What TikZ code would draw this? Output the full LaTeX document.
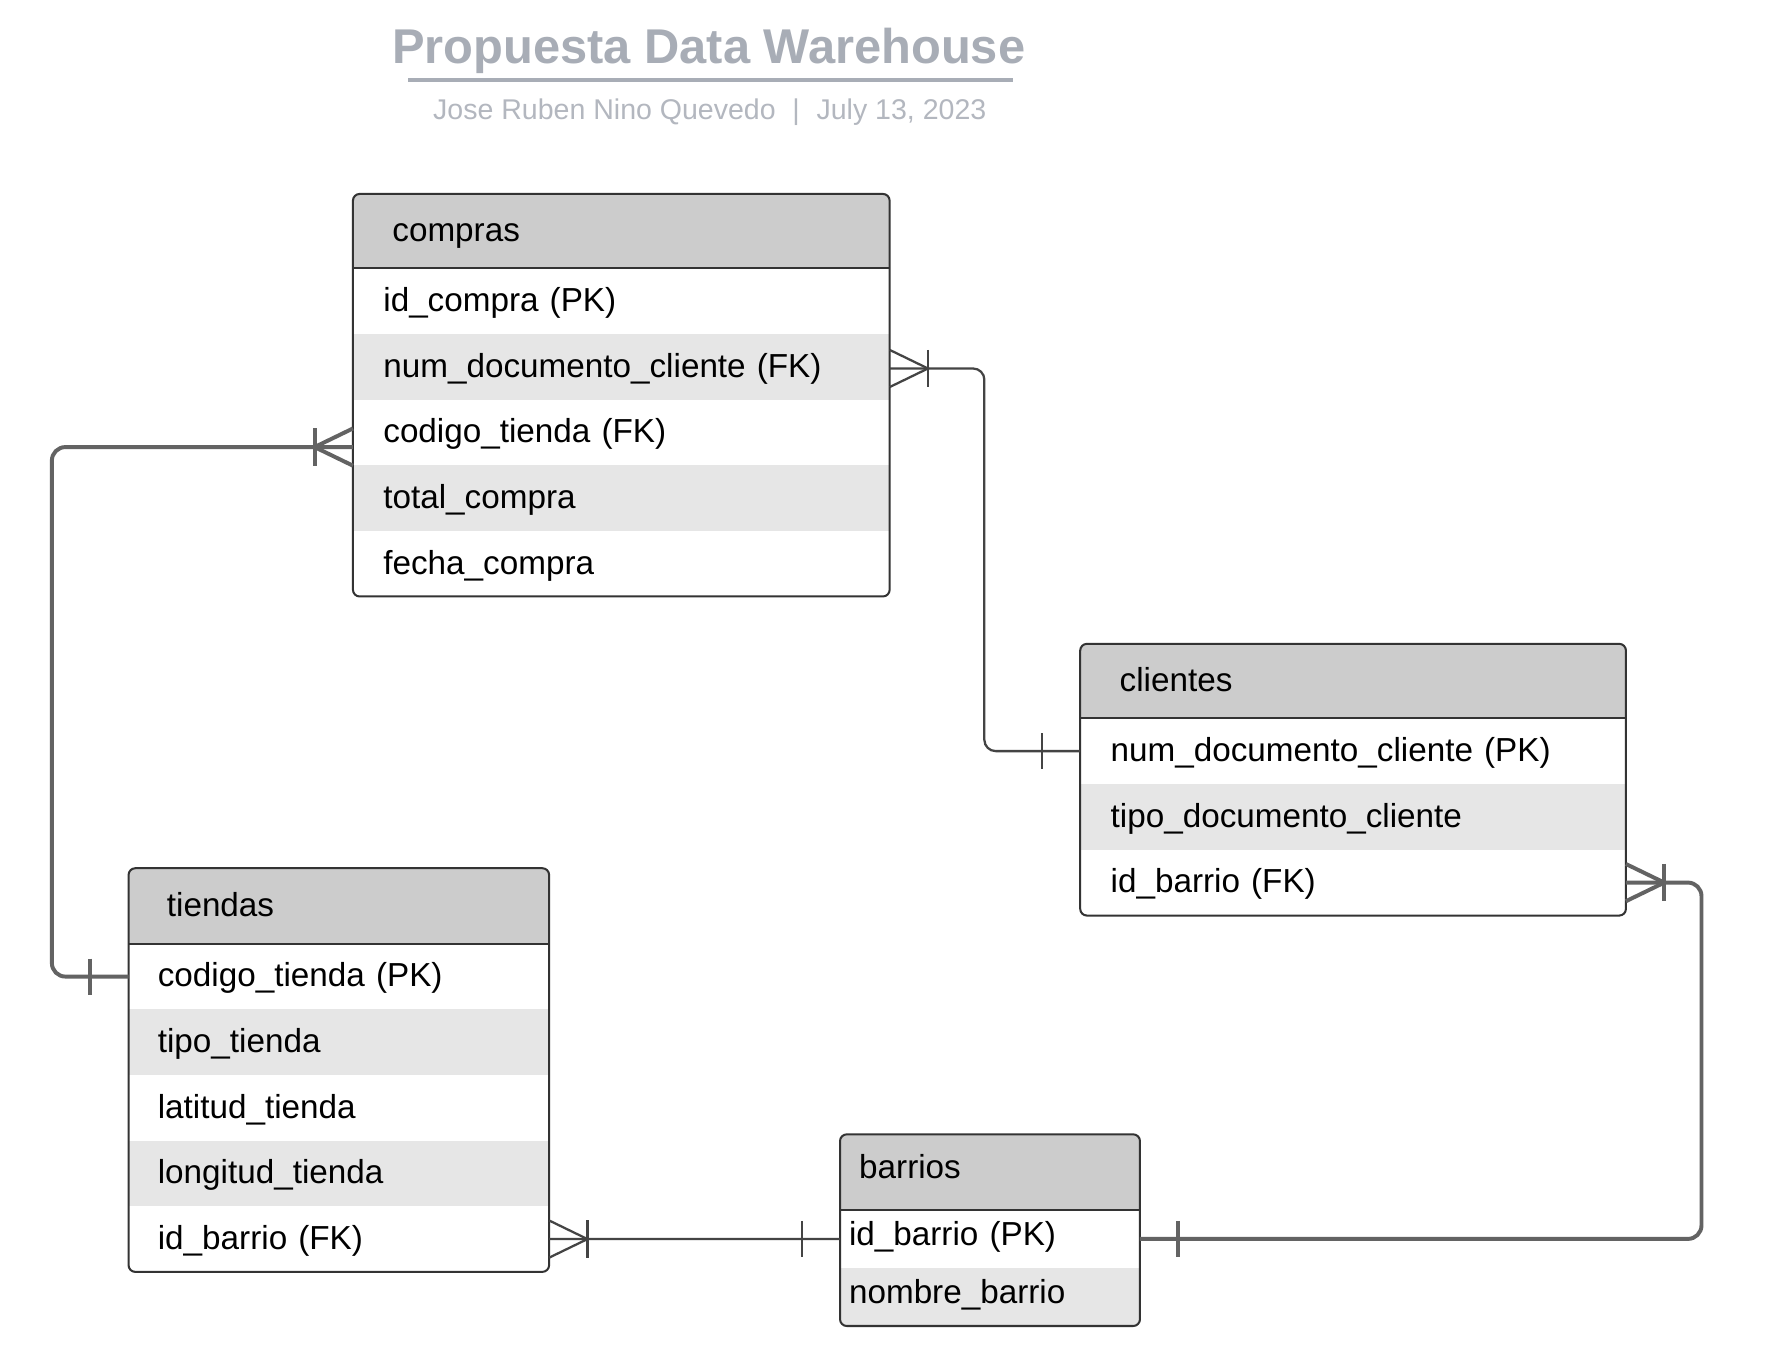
\documentclass[tikz,border=0pt]{standalone}
\usepackage{fontspec}
\setmainfont{Liberation Sans}
\usetikzlibrary{calc}
\definecolor{hdrgray}{HTML}{CCCCCC}
\definecolor{rowgray}{HTML}{E6E6E6}
\definecolor{bordc}{HTML}{333333}
\definecolor{linec}{HTML}{636363}
\definecolor{thinc}{HTML}{444444}
\definecolor{titlec}{HTML}{A8ADB6}
\definecolor{subc}{HTML}{B3B7BF}
\newcommand{\rowfont}{\fontsize{29.5pt}{34pt}\selectfont}
\newcommand{\ttlfont}{\fontsize{43.3pt}{50pt}\selectfont\bfseries}
\newcommand{\subfont}{\fontsize{25.3pt}{30pt}\selectfont}
\tikzset{
  cell/.style={anchor=north west, inner ysep=0pt, align=left, outer sep=0pt,
    text height=24pt, text depth=5.6pt, font=\rowfont, text=black},
  hdrcell/.style={cell, fill=hdrgray},
  whiterow/.style={cell, fill=white},
  grayrow/.style={cell, fill=rowgray},
  smallshift/.style={text depth=12pt},
  border/.style={draw=bordc, line width=1.8pt, rounded corners=6pt},
  sepline/.style={draw=bordc, line width=1.8pt},
  thinln/.style={color=thinc, line width=2pt},
  thickln/.style={color=linec, line width=3.5pt},
  pics/crowfoot/.style={code={
    \draw (0,-16.5) -- (34,0) -- (0,16.5);
    \draw (34,-16.5) -- (34,16.5);}},
  pics/onebar/.style={code={
    \draw (34,-16) -- (34,16);}},
}
\begin{document}
\begin{tikzpicture}[x=1pt,y=-1pt]
\fill[white] (0,0) rectangle (1568,1206);
\useasboundingbox (0,0) rectangle (1568,1206);

% Title
\node[font=\ttlfont, text=titlec, anchor=base, inner sep=0pt] (title) at (628.5,56) {Propuesta Data Warehouse};
\draw[titlec, line width=3pt] (362,71) -- (898,71);
\node[font=\subfont, text=subc, anchor=base west, inner sep=0pt] (author) at (384,106) {Jose Ruben Nino Quevedo};
\node[font=\subfont, text=subc, anchor=base, inner sep=0pt] (sep) at (706,106) {|};
\node[font=\subfont, text=subc, anchor=base west, inner sep=0pt] (date) at (724,106) {July 13, 2023};

% ---------- compras ----------
\begin{scope}
\clip[rounded corners=6pt] (313,172) rectangle (789,529);
\node[hdrcell, minimum width=476pt, minimum height=66pt, inner xsep=35pt, text width=406pt] (c-h) at (313,172) {compras};
\node[whiterow, minimum width=476pt, minimum height=58.2pt, inner xsep=27pt, text width=422pt] (c-r1) at (c-h.south west) {id\_compra (PK)};
\node[grayrow, minimum width=476pt, minimum height=58.2pt, inner xsep=27pt, text width=422pt] (c-r2) at (c-r1.south west) {num\_documento\_cliente (FK)};
\node[whiterow, minimum width=476pt, minimum height=58.2pt, inner xsep=27pt, text width=422pt] (c-r3) at (c-r2.south west) {codigo\_tienda (FK)};
\node[grayrow, minimum width=476pt, minimum height=58.2pt, inner xsep=27pt, text width=422pt] (c-r4) at (c-r3.south west) {total\_compra};
\node[whiterow, minimum width=476pt, minimum height=58.2pt, inner xsep=27pt, text width=422pt] (c-r5) at (c-r4.south west) {fecha\_compra};
\end{scope}
\draw[sepline] (c-h.south west) -- (c-h.south east);
\draw[border] (313,172) rectangle (789,529);

% ---------- clientes ----------
\begin{scope}
\clip[rounded corners=6pt] (958,571) rectangle (1442,812);
\node[hdrcell, minimum width=484pt, minimum height=66pt, inner xsep=35pt, text width=414pt] (k-h) at (958,571) {clientes};
\node[whiterow, minimum width=484pt, minimum height=58.3pt, inner xsep=27pt, text width=430pt] (k-r1) at (k-h.south west) {num\_documento\_cliente (PK)};
\node[grayrow, minimum width=484pt, minimum height=58.3pt, inner xsep=27pt, text width=430pt] (k-r2) at (k-r1.south west) {tipo\_documento\_cliente};
\node[whiterow, minimum width=484pt, minimum height=58.3pt, inner xsep=27pt, text width=430pt] (k-r3) at (k-r2.south west) {id\_barrio (FK)};
\end{scope}
\draw[sepline] (k-h.south west) -- (k-h.south east);
\draw[border] (958,571) rectangle (1442,812);

% ---------- tiendas ----------
\begin{scope}
\clip[rounded corners=6pt] (114,770) rectangle (487,1128);
\node[hdrcell, minimum width=373pt, minimum height=67pt, inner xsep=34pt, text width=305pt] (t-h) at (114,770) {tiendas};
\node[whiterow, minimum width=373pt, minimum height=58.2pt, inner xsep=26pt, text width=321pt] (t-r1) at (t-h.south west) {codigo\_tienda (PK)};
\node[grayrow, minimum width=373pt, minimum height=58.2pt, inner xsep=26pt, text width=321pt] (t-r2) at (t-r1.south west) {tipo\_tienda};
\node[whiterow, minimum width=373pt, minimum height=58.2pt, inner xsep=26pt, text width=321pt] (t-r3) at (t-r2.south west) {latitud\_tienda};
\node[grayrow, minimum width=373pt, minimum height=58.2pt, inner xsep=26pt, text width=321pt] (t-r4) at (t-r3.south west) {longitud\_tienda};
\node[whiterow, minimum width=373pt, minimum height=58.2pt, inner xsep=26pt, text width=321pt] (t-r5) at (t-r4.south west) {id\_barrio (FK)};
\end{scope}
\draw[sepline] (t-h.south west) -- (t-h.south east);
\draw[border] (114,770) rectangle (487,1128);

% ---------- barrios ----------
\begin{scope}
\clip[rounded corners=6pt] (745,1006) rectangle (1011,1176);
\node[hdrcell, smallshift, minimum width=266pt, minimum height=67pt, inner xsep=17pt, text width=232pt] (b-h) at (745,1006) {barrios};
\node[whiterow, smallshift, minimum width=266pt, minimum height=51.5pt, inner xsep=8pt, text width=250pt] (b-r1) at (b-h.south west) {id\_barrio (PK)};
\node[grayrow, smallshift, minimum width=266pt, minimum height=51.5pt, inner xsep=8pt, text width=250pt] (b-r2) at (b-r1.south west) {nombre\_barrio};
\end{scope}
\draw[sepline] (b-h.south west) -- (b-h.south east);
\draw[border] (745,1006) rectangle (1011,1176);

% ---------- connectors ----------
% compras.num_documento_cliente -> clientes.num_documento_cliente
\coordinate (cf1) at ($(c-r2.east)+(0,1.5)$);
\draw[thinln, rounded corners=10pt] (cf1) -- ++(84,0) |- (k-r1.west);
\pic[thinln] at (cf1) {crowfoot};
\pic[thinln, xscale=-1] at (k-r1.west) {onebar};

% tiendas.codigo_tienda -> compras.codigo_tienda
\coordinate (cf2) at ($(c-r3.west)+(0,13)$);
\draw[thickln, rounded corners=12pt] (t-r1.west) -- ++(-68,0) |- (cf2);
\pic[thickln, xscale=-1] at (cf2) {crowfoot};
\pic[thickln, xscale=-1] at (t-r1.west) {onebar};

% tiendas.id_barrio -> barrios.id_barrio
\draw[thinln] (t-r5.east) -- (b-r1.west);
\pic[thinln] at (t-r5.east) {crowfoot};
\pic[thinln, xscale=-1] at (b-r1.west) {onebar};

% clientes.id_barrio -> barrios.id_barrio
\draw[thickln, rounded corners=12pt] (k-r3.east) -- ++(67,0) |- (b-r1.east);
\pic[thickln] at (k-r3.east) {crowfoot};
\pic[thickln] at (b-r1.east) {onebar};
\end{tikzpicture}
\end{document}
